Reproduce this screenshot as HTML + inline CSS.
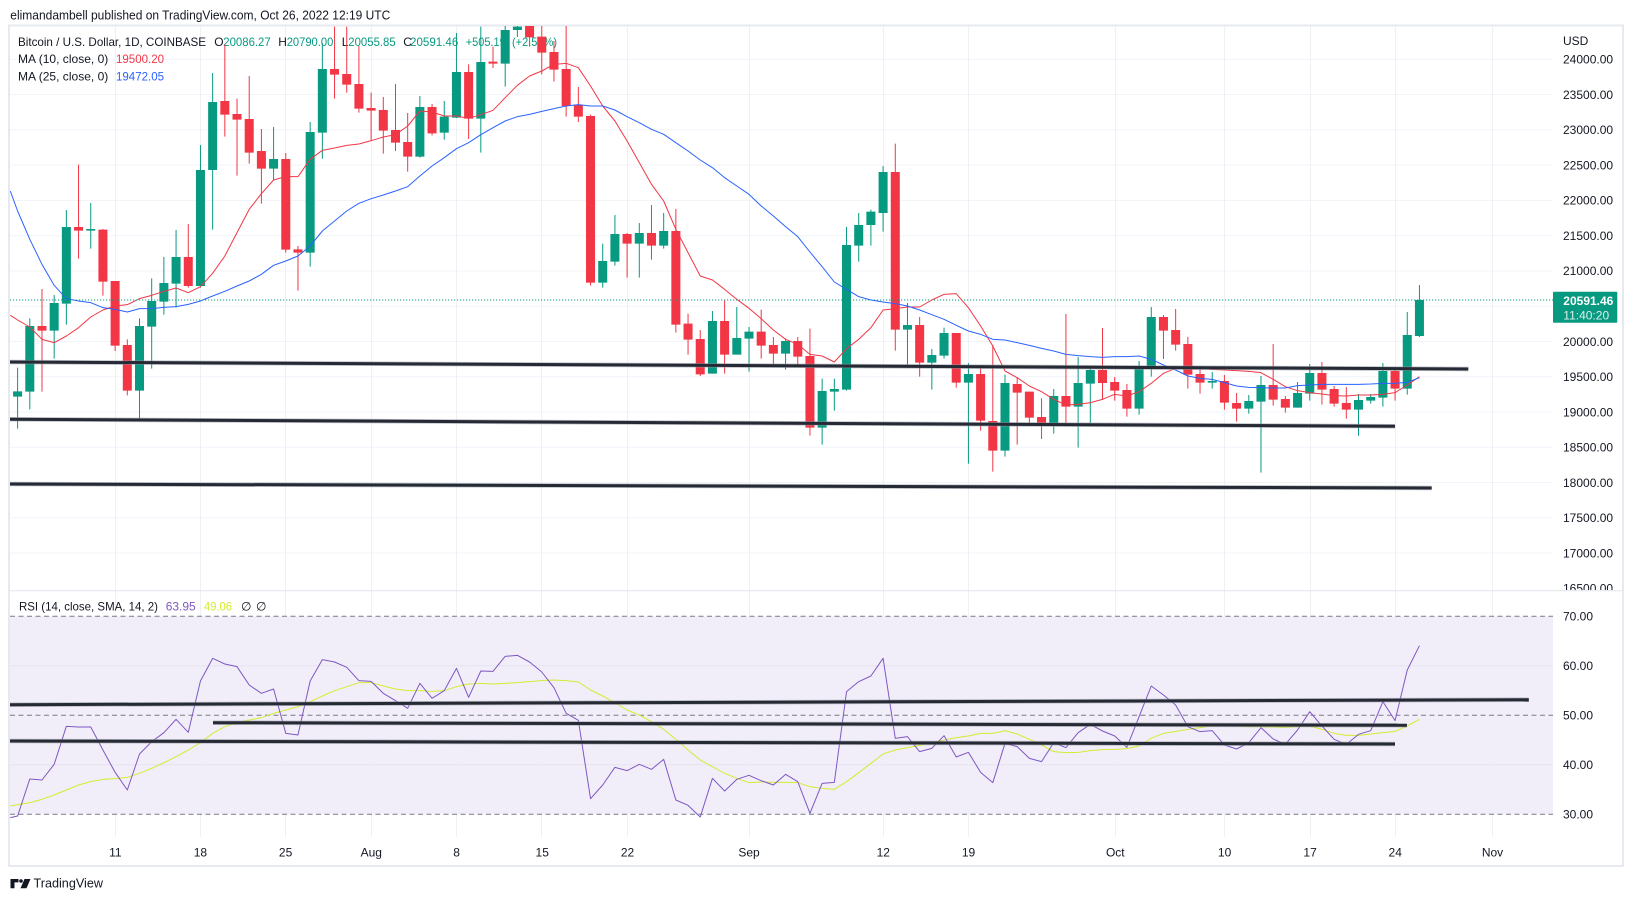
<!DOCTYPE html>
<html><head><meta charset="utf-8"><title>BTCUSD chart</title>
<style>
html,body{margin:0;padding:0;background:#fff;}
svg{display:block;font-family:"Liberation Sans",Arial,sans-serif;}
.wg{stroke:#089981;stroke-width:1;vector-effect:non-scaling-stroke;fill:none;}
.wr{stroke:#f23645;stroke-width:1;vector-effect:non-scaling-stroke;fill:none;}
.ln{fill:none;stroke-width:1;vector-effect:non-scaling-stroke;stroke-linejoin:round;}
.ax{font-size:12px;fill:#131722;}
</style></head><body>
<svg width="1633" height="901" viewBox="0 0 1633 901" xmlns="http://www.w3.org/2000/svg">
<defs>
<clipPath id="cp"><rect x="10" y="26" width="1543" height="564"/></clipPath>
<clipPath id="cr"><rect x="10" y="591" width="1543" height="246"/></clipPath>
<clipPath id="ca"><rect x="1553" y="26" width="69" height="564"/></clipPath>
</defs>
<rect x="0" y="0" width="1633" height="901" fill="#fff"/>
<text x="10.3" y="19.5" font-size="13" fill="#131722" textLength="380" lengthAdjust="spacingAndGlyphs">elimandambell published on TradingView.com, Oct 26, 2022 12:19 UTC</text>

<!-- frame -->
<rect x="9" y="25.5" width="1614" height="840.5" fill="none" stroke="#e6e9f0" stroke-width="2"/>

<!-- price grid -->
<g stroke="#f0f3fa" stroke-width="1">
<line x1="10" x2="1553" y1="59.3" y2="59.3"/><line x1="10" x2="1553" y1="94.6" y2="94.6"/>
<line x1="10" x2="1553" y1="129.8" y2="129.8"/><line x1="10" x2="1553" y1="165.1" y2="165.1"/>
<line x1="10" x2="1553" y1="200.4" y2="200.4"/><line x1="10" x2="1553" y1="235.7" y2="235.7"/>
<line x1="10" x2="1553" y1="270.9" y2="270.9"/><line x1="10" x2="1553" y1="306.2" y2="306.2"/>
<line x1="10" x2="1553" y1="341.5" y2="341.5"/><line x1="10" x2="1553" y1="376.7" y2="376.7"/>
<line x1="10" x2="1553" y1="412" y2="412"/><line x1="10" x2="1553" y1="447.3" y2="447.3"/>
<line x1="10" x2="1553" y1="482.5" y2="482.5"/><line x1="10" x2="1553" y1="517.8" y2="517.8"/>
<line x1="10" x2="1553" y1="553.1" y2="553.1"/>
</g>
<!-- RSI background -->
<rect x="10" y="616.3" width="1543" height="198" fill="#7e57c2" fill-opacity="0.1"/>
<g stroke="#e6e2f0" stroke-width="1">
<line x1="10" x2="1553" y1="665.8" y2="665.8"/><line x1="10" x2="1553" y1="764.8" y2="764.8"/>
</g>
<!-- vertical grid -->
<g stroke="#eef0f5" stroke-width="1">
<line x1="115.5" x2="115.5" y1="26" y2="837"/><line x1="200.5" x2="200.5" y1="26" y2="837"/>
<line x1="285.5" x2="285.5" y1="26" y2="837"/><line x1="371.5" x2="371.5" y1="26" y2="837"/>
<line x1="456.5" x2="456.5" y1="26" y2="837"/><line x1="541.5" x2="541.5" y1="26" y2="837"/>
<line x1="627.5" x2="627.5" y1="26" y2="837"/><line x1="749.5" x2="749.5" y1="26" y2="837"/>
<line x1="883.5" x2="883.5" y1="26" y2="837"/><line x1="968.5" x2="968.5" y1="26" y2="837"/>
<line x1="1115.5" x2="1115.5" y1="26" y2="837"/><line x1="1224.5" x2="1224.5" y1="26" y2="837"/>
<line x1="1310.5" x2="1310.5" y1="26" y2="837"/><line x1="1395.5" x2="1395.5" y1="26" y2="837"/>
<line x1="1492.5" x2="1492.5" y1="26" y2="837"/>
</g>
<g stroke="#787b86" stroke-width="1" stroke-dasharray="5,3.5">
<line x1="10" x2="1553" y1="616.3" y2="616.3"/>
<line x1="10" x2="1553" y1="715.3" y2="715.3"/>
<line x1="10" x2="1553" y1="814.3" y2="814.3"/>
</g>
<!-- pane separator -->
<line x1="10" x2="1622" y1="590.7" y2="590.7" stroke="#e0e3eb" stroke-width="1"/>

<!-- legend -->
<g font-size="12">
<text x="18" y="46" fill="#131722" textLength="188" lengthAdjust="spacingAndGlyphs">Bitcoin / U.S. Dollar, 1D, COINBASE</text>
<text x="214.3" y="46" fill="#131722">O</text>
<text x="223.3" y="46" fill="#089981" textLength="47.4" lengthAdjust="spacingAndGlyphs">20086.27</text>
<text x="278.3" y="46" fill="#131722">H</text>
<text x="286.7" y="46" fill="#089981" textLength="46.6" lengthAdjust="spacingAndGlyphs">20790.00</text>
<text x="341.7" y="46" fill="#131722">L</text>
<text x="348.3" y="46" fill="#089981" textLength="47.4" lengthAdjust="spacingAndGlyphs">20055.85</text>
<text x="403.3" y="46" fill="#131722">C</text>
<text x="410" y="46" fill="#089981" textLength="48.3" lengthAdjust="spacingAndGlyphs">20591.46</text>
<text x="465.7" y="46" fill="#089981" textLength="40" lengthAdjust="spacingAndGlyphs">+505.19</text>
<text x="512" y="46" fill="#089981" textLength="45" lengthAdjust="spacingAndGlyphs">(+2.52%)</text>
<text x="18" y="63" fill="#131722" textLength="90.3" lengthAdjust="spacingAndGlyphs">MA (10, close, 0)</text>
<text x="116" y="63" fill="#f23645" textLength="48" lengthAdjust="spacingAndGlyphs">19500.20</text>
<text x="18" y="80.3" fill="#131722" textLength="90.3" lengthAdjust="spacingAndGlyphs">MA (25, close, 0)</text>
<text x="116" y="80.3" fill="#2962ff" textLength="48" lengthAdjust="spacingAndGlyphs">19472.05</text>
<text x="19" y="610.3" fill="#131722" textLength="139" lengthAdjust="spacingAndGlyphs">RSI (14, close, SMA, 14, 2)</text>
<text x="165.7" y="610.3" fill="#7e57c2" textLength="30" lengthAdjust="spacingAndGlyphs">63.95</text>
<text x="204" y="610.3" fill="#d4ec30" textLength="28" lengthAdjust="spacingAndGlyphs">49.06</text>
<text x="241" y="610.3" fill="#131722">∅</text>
<text x="256" y="610.3" fill="#131722">∅</text>
</g>

<!-- candles -->
<g clip-path="url(#cp)">
<g transform="matrix(12.19 0 0 0.333333 17.6 26)">
<path class="wg" d="M0 1025V1208M1 877V1150M3 807V998M4 552V896M6 531V668M10 877V1180M11 757V1028M12 693V866M13 612V845M15 357V785M16 141V611M21 303V463M24 288V722M25 51V398M33 210V395M35 225V341M36 21V276M38 2V380M40 -30V182M41 -60V33M48 653V785M49 567V719M51 591V755M53 561V668M57 855V1043M59 843V986M60 903V1037M63 938V1031M66 1058V1256M67 1058V1154M68 603V1094M69 561V707M70 551V659M71 420V617M73 831V1025M75 969V1091M76 905V998M78 1011V1313M81 1046V1292M85 1089V1223M87 993V1265M88 1020V1191M92 1005V1166M93 843V1052M98 1038V1088M101 1107V1163M102 1050V1340M105 1068V1145M106 1014V1124M110 1104V1229M111 1104V1133M112 1011V1142M114 858V1106M115 777V933"/>
<path class="wr" d="M2 789V1097M5 416V698M7 609V809M8 765V975M9 940V1108M14 594V785M17 55V332M18 218V449M19 150V413M20 309V533M22 381V680M23 660V794M26 2V218M27 2V200M28 60V260M29 200V343M30 213V383M31 174V375M32 261V437M34 234V328M37 115V339M39 62V126M42 -60V62M43 -60V145M44 45V167M45 -60V272M46 183V288M47 266V779M50 621V755M52 537V701M54 549V920M55 863V986M56 912V1050M58 821V1043M61 851V998M62 933V1019M64 933V1022M65 908V1229M72 353V974M74 873V1052M77 921V1085M79 1022V1214M80 957V1337M82 1053V1256M83 1097V1196M84 1117V1239M86 864V1199M89 906V1122M90 1053V1124M91 1074V1172M94 867V999M95 849V974M96 933V1088M97 1020V1103M99 1047V1151M100 1101V1187M103 954V1139M104 1110V1160M107 1008V1136M108 1080V1142M109 1083V1178M113 1029V1124"/>
<path fill="#089981" d="M-.37 1096h.74V1112h-.74zM.63 900h.74V1097h-.74zM2.63 831h.74V914h-.74zM3.63 603h.74V833h-.74zM5.63 609h.74V614h-.74zM9.63 900h.74V1094h-.74zM10.63 825h.74V902h-.74zM11.63 771h.74V827h-.74zM12.63 693h.74V773h-.74zM14.63 432h.74V780h-.74zM15.63 228h.74V432h-.74zM20.63 399h.74V428h-.74zM23.63 318h.74V680h-.74zM24.63 129h.74V320h-.74zM32.63 243h.74V392h-.74zM34.63 272h.74V320h-.74zM35.63 138h.74V275h-.74zM37.63 108h.74V278h-.74zM39.63 12h.74V113h-.74zM40.63 2h.74V12h-.74zM47.63 705h.74V770h-.74zM48.63 624h.74V707h-.74zM50.63 621h.74V653h-.74zM52.63 615h.74V659h-.74zM56.63 885h.74V1043h-.74zM58.63 936h.74V986h-.74zM59.63 917h.74V938h-.74zM62.63 945h.74V983h-.74zM65.63 1095h.74V1205h-.74zM66.63 1089h.74V1097h-.74zM67.63 657h.74V1091h-.74zM68.63 597h.74V659h-.74zM69.63 557h.74V597h-.74zM70.63 438h.74V561h-.74zM72.63 897h.74V911h-.74zM74.63 987h.74V1010h-.74zM75.63 921h.74V989h-.74zM77.63 1044h.74V1070h-.74zM80.63 1071h.74V1274h-.74zM84.63 1110h.74V1199h-.74zM86.63 1071h.74V1142h-.74zM87.63 1032h.74V1073h-.74zM91.63 1023h.74V1148h-.74zM92.63 873h.74V1025h-.74zM97.63 1065h.74V1070h-.74zM100.63 1125h.74V1148h-.74zM101.63 1077h.74V1127h-.74zM104.63 1101h.74V1145h-.74zM105.63 1041h.74V1103h-.74zM109.63 1122h.74V1151h-.74zM110.63 1113h.74V1124h-.74zM111.63 1035h.74V1115h-.74zM113.63 927h.74V1088h-.74zM114.63 822h.74V930h-.74z"/>
<path fill="#f23645" d="M1.63 900h.74V914h-.74zM4.63 603h.74V614h-.74zM6.63 611h.74V767h-.74zM7.63 765h.74V959h-.74zM8.63 957h.74V1094h-.74zM13.63 693h.74V780h-.74zM16.63 225h.74V266h-.74zM17.63 264h.74V281h-.74zM18.63 279h.74V380h-.74zM19.63 375h.74V428h-.74zM21.63 399h.74V671h-.74zM22.63 670h.74V680h-.74zM25.63 129h.74V146h-.74zM26.63 144h.74V176h-.74zM27.63 174h.74V248h-.74zM28.63 246h.74V254h-.74zM29.63 252h.74V314h-.74zM30.63 312h.74V350h-.74zM31.63 348h.74V392h-.74zM33.63 243h.74V322h-.74zM36.63 138h.74V278h-.74zM38.63 107h.74V113h-.74zM41.63 -20h.74V34h-.74zM42.63 32h.74V80h-.74zM43.63 78h.74V131h-.74zM44.63 129h.74V240h-.74zM45.63 236h.74V272h-.74zM46.63 270h.74V770h-.74zM49.63 624h.74V653h-.74zM51.63 621h.74V659h-.74zM53.63 615h.74V896h-.74zM54.63 893h.74V941h-.74zM55.63 939h.74V1045h-.74zM57.63 885h.74V986h-.74zM60.63 917h.74V959h-.74zM61.63 957h.74V983h-.74zM63.63 945h.74V992h-.74zM64.63 990h.74V1205h-.74zM71.63 438h.74V911h-.74zM73.63 897h.74V1010h-.74zM76.63 921h.74V1070h-.74zM78.63 1044h.74V1184h-.74zM79.63 1185h.74V1274h-.74zM81.63 1074h.74V1100h-.74zM82.63 1097h.74V1175h-.74zM83.63 1173h.74V1199h-.74zM85.63 1110h.74V1142h-.74zM88.63 1032h.74V1071h-.74zM89.63 1068h.74V1094h-.74zM90.63 1092h.74V1148h-.74zM93.63 873h.74V914h-.74zM94.63 912h.74V956h-.74zM95.63 954h.74V1046h-.74zM96.63 1044h.74V1070h-.74zM98.63 1065h.74V1130h-.74zM99.63 1131h.74V1148h-.74zM102.63 1077h.74V1121h-.74zM103.63 1119h.74V1145h-.74zM106.63 1041h.74V1091h-.74zM107.63 1089h.74V1133h-.74zM108.63 1131h.74V1151h-.74zM112.63 1035h.74V1088h-.74z"/>
<!-- MA10 -->
<polyline class="ln" stroke="#f23645" points="-0.6,868 0,882 1,903 2,940 3,950 4,930 5,905 6,873 7,852 8,840 9,836 10,818 11,808 12,796 13,786 14,800 15,782 16,742 17,690 18,620 19,550 20,503 21,462 22,452 23,452 24,400 25,373 26,366 27,358 28,354 29,344 30,333 31,326 32,300 33,255 34,258 35,270 36,270 37,277 38,266 39,253 40,215 41,178 42,150 43,135 44,115 45,112 46,125 47,180 48,240 49,285 50,345 51,410 52,475 53,525 54,610 55,680 56,750 57,762 58,790 59,820 60,847 61,878 62,912 63,940 64,955 65,985 66,990 67,1008 68,968 69,940 70,905 71,852 72,848 73,843 74,843 75,822 76,805 77,803 78,845 79,900 80,960 81,1035 82,1055 83,1080 84,1097 85,1120 86,1137 87,1135 88,1130 89,1120 90,1105 91,1110 92,1097 93,1072 94,1042 95,1027 96,1020 97,1024 98,1030 99,1032 100,1034 101,1036 102,1040 103,1060 104,1082 105,1094 106,1100 107,1104 108,1109 109,1110 110,1107 111,1107 112,1105 113,1100 114,1077 115,1052"/>
<!-- MA25 -->
<polyline class="ln" stroke="#2962ff" points="-0.6,495 0,555 1,640 2,715 3,778 4,818 5,825 6,830 7,845 8,850 9,858 10,848 11,848 12,844 13,842 14,835 15,825 16,810 17,796 18,780 19,765 20,745 21,718 22,705 23,690 24,660 25,615 26,585 27,555 28,532 29,518 30,507 31,495 32,482 33,450 34,420 35,395 36,368 37,350 38,326 39,305 40,285 41,272 42,265 43,256 44,248 45,240 46,236 47,240 48,240 49,252 50,272 51,290 52,310 53,325 54,350 55,375 56,402 57,425 58,455 59,480 60,505 61,540 62,570 63,602 64,632 65,678 66,722 67,768 68,790 69,812 70,822 71,828 72,833 73,840 74,852 75,866 76,880 77,898 78,915 79,925 80,940 81,942 82,950 83,958 84,967 85,975 86,985 87,989 88,992 89,994 90,992 91,992 92,990 93,1000 94,1017 95,1032 96,1050 97,1057 98,1060 99,1070 100,1080 101,1084 102,1085 103,1086 104,1086 105,1079 106,1077 107,1075 108,1075 109,1075 110,1075 111,1074 112,1072 113,1072 114,1069 115,1055"/>
</g>
<!-- trend lines price -->
<g stroke-linecap="butt">
<line x1="10" y1="362" x2="1468.3" y2="369" stroke="#9598a1" stroke-opacity="0.6" stroke-width="4.5"/>
<line x1="10" y1="362" x2="1468.3" y2="369" stroke="#262a35" stroke-width="3"/>
<line x1="10" y1="419.3" x2="1395" y2="426.3" stroke="#9598a1" stroke-opacity="0.6" stroke-width="4.5"/>
<line x1="10" y1="419.3" x2="1395" y2="426.3" stroke="#262a35" stroke-width="3"/>
<line x1="10" y1="484" x2="1431.7" y2="488" stroke="#9598a1" stroke-opacity="0.6" stroke-width="4.5"/>
<line x1="10" y1="484" x2="1431.7" y2="488" stroke="#262a35" stroke-width="3"/>
</g>
<line x1="10" x2="1553" y1="300" y2="300" stroke="#089981" stroke-width="1" stroke-dasharray="1.2,1.8"/>
</g>

<!-- RSI -->
<g clip-path="url(#cr)">
<g transform="matrix(12.19 0 0 0.333333 17.6 590)">
<polyline class="ln" stroke="#d4ec30" points="-0.6,648 1,638 2,628 3,615 4,600 5,585 6,575 7,568 8,566 9,562 10,550 11,535 12,518 13,500 14,480 15,458 16,430 17,410 18,398 19,390 20,383 21,370 22,360 23,350 24,335 25,318 26,302 27,290 28,278 29,278 30,288 31,297 32,302 33,302 34,304 35,302 36,290 37,282 38,280 39,282 40,280 41,278 42,275 43,272 44,270 45,272 46,276 47,300 48,318 49,338 50,360 51,375 52,395 53,418 54,448 55,480 56,510 57,530 58,550 59,565 60,578 61,576 62,577 63,577 64,578 65,590 66,595 67,598 68,575 69,548 70,520 71,492 72,480 73,473 74,466 75,458 76,450 77,443 78,438 79,430 80,430 81,422 82,432 83,448 84,465 85,485 86,488 87,487 88,482 89,479 90,478 91,476 92,468 93,445 94,430 95,424 96,418 97,413 98,407 99,408 100,408 101,410 102,410 103,411 104,412 105,410 106,408 107,418 108,430 109,436 110,436 111,432 112,428 113,424 114,408 115,388"/>
<polyline class="ln" stroke="#7e57c2" points="-0.6,683 0,678 1,567 2,570 3,523 4,409 5,411 6,411 7,480 8,547 9,600 10,492 11,455 12,428 13,388 14,427 15,273 16,205 17,222 18,230 19,285 20,310 21,297 22,430 23,435 24,273 25,209 26,216 27,232 28,272 29,274 30,310 31,332 32,355 33,280 34,325 35,302 36,235 37,322 38,243 39,244 40,199 41,196 42,216 43,246 44,293 45,370 46,391 47,626 48,585 49,532 50,542 51,523 52,538 53,508 54,630 55,646 56,681 57,565 58,603 59,568 60,556 61,572 62,585 63,553 64,575 65,670 66,580 67,577 68,305 69,275 70,258 71,205 72,445 73,440 74,485 75,475 76,437 77,501 78,487 79,547 80,578 81,460 82,470 83,505 84,515 85,458 86,473 87,428 88,403 89,423 90,438 91,472 92,380 93,288 94,315 95,345 96,410 97,425 98,422 99,465 100,477 101,458 102,413 103,447 104,463 105,420 106,365 107,408 108,448 109,463 110,433 111,422 112,335 113,392 114,240 115,167"/>
</g>
<line x1="10" y1="704.7" x2="1528.8" y2="699.7" stroke="#9598a1" stroke-opacity="0.6" stroke-width="4.5"/>
<line x1="10" y1="704.7" x2="1528.8" y2="699.7" stroke="#262a35" stroke-width="3"/>
<line x1="213" y1="722.7" x2="1406.9" y2="725.3" stroke="#9598a1" stroke-opacity="0.6" stroke-width="4.5"/>
<line x1="213" y1="722.7" x2="1406.9" y2="725.3" stroke="#262a35" stroke-width="3"/>
<line x1="10" y1="741" x2="1395" y2="744" stroke="#9598a1" stroke-opacity="0.6" stroke-width="4.5"/>
<line x1="10" y1="741" x2="1395" y2="744" stroke="#262a35" stroke-width="3"/>
</g>

<!-- price axis -->
<g class="ax" clip-path="url(#ca)">
<text x="1563" y="45">USD</text>
<text x="1563" y="63.6">24000.00</text>
<text x="1563" y="98.9">23500.00</text>
<text x="1563" y="134.1">23000.00</text>
<text x="1563" y="169.4">22500.00</text>
<text x="1563" y="204.7">22000.00</text>
<text x="1563" y="240">21500.00</text>
<text x="1563" y="275.2">21000.00</text>
<text x="1563" y="345.8">20000.00</text>
<text x="1563" y="381">19500.00</text>
<text x="1563" y="416.3">19000.00</text>
<text x="1563" y="451.6">18500.00</text>
<text x="1563" y="486.8">18000.00</text>
<text x="1563" y="522.1">17500.00</text>
<text x="1563" y="557.4">17000.00</text>
<text x="1563" y="592.7">16500.00</text>
</g>
<rect x="1553" y="291.7" width="64.3" height="31" rx="1" fill="#089981"/>
<text x="1563.3" y="305" font-size="12" font-weight="bold" fill="#fff">20591.46</text>
<text x="1563.3" y="319.3" font-size="12" fill="#fff" fill-opacity="0.85">11:40:20</text>

<g class="ax">
<text x="1563" y="620.6">70.00</text>
<text x="1563" y="670.1">60.00</text>
<text x="1563" y="719.6">50.00</text>
<text x="1563" y="769.1">40.00</text>
<text x="1563" y="818.6">30.00</text>
</g>

<!-- time axis -->
<g class="ax" text-anchor="middle">
<text x="115.3" y="856.3">11</text>
<text x="200.4" y="856.3">18</text>
<text x="285.6" y="856.3">25</text>
<text x="371.3" y="856.3">Aug</text>
<text x="456.6" y="856.3">8</text>
<text x="542.2" y="856.3">15</text>
<text x="627.5" y="856.3">22</text>
<text x="749" y="856.3">Sep</text>
<text x="883.3" y="856.3">12</text>
<text x="968.5" y="856.3">19</text>
<text x="1115.3" y="856.3">Oct</text>
<text x="1224.6" y="856.3">10</text>
<text x="1310.1" y="856.3">17</text>
<text x="1395.2" y="856.3">24</text>
<text x="1492.5" y="856.3">Nov</text>
</g>

<!-- TradingView logo -->
<g fill="#131722">
<path d="M10.5 879h8v3.4h-4v5.8h-4z"/>
<circle cx="21" cy="881" r="1.8"/>
<path d="M24.5 879h6l-4 9.2h-6z"/>
</g>
<text x="33.5" y="887.5" font-size="13" fill="#131722" textLength="69.5" lengthAdjust="spacingAndGlyphs">TradingView</text>
</svg>
</body></html>
